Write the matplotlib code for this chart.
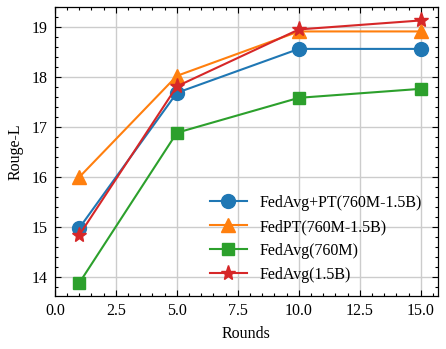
import matplotlib
matplotlib.use("Agg")
import matplotlib.pyplot as plt
from matplotlib.ticker import AutoMinorLocator, MultipleLocator, FormatStrFormatter

rounds = [1, 5, 10, 15]
fedavg_pt = [14.98, 17.69, 18.57, 18.57]
fedpt = [16.00, 18.03, 18.92, 18.92]
fedavg_760m = [13.88, 16.89, 17.59, 17.77]
fedavg_15b = [14.84, 17.82, 18.96, 19.14]
labels = ["FedAvg+PT(760M-1.5B)", "FedPT(760M-1.5B)", "FedAvg(760M)", "FedAvg(1.5B)"]

plt.rcParams['font.family'] = ['Liberation Serif', 'DejaVu Serif']
fs = 11.5
plt.rcParams['font.size'] = fs

fig = plt.figure(figsize=(4.46, 3.49), dpi=100)
ax = fig.add_axes([0.123, 0.152, 0.859, 0.828])

series = [fedavg_pt, fedpt, fedavg_760m, fedavg_15b]
markers = ['o', '^', 's', '*']
colors = ['#1f77b4', '#ff7f0e', '#2ca02c', '#d62728']
msizes = [10, 10, 9, 11]
for s, m, c, lab, ms in zip(series, markers, colors, labels, msizes):
    ax.plot(rounds, s, marker=m, color=c, label=lab, linewidth=1.5, markersize=ms)

ax.set_xlim(0, 15.7)
ax.set_ylim(13.62, 19.41)
ax.set_xlabel("Rounds", labelpad=5)
ax.set_ylabel("Rouge-L", labelpad=6)
ax.grid(True, color='#cccccc', linewidth=1.0)
ax.set_axisbelow(True)
ax.xaxis.set_major_locator(MultipleLocator(2.5))
ax.xaxis.set_major_formatter(FormatStrFormatter('%.1f'))
ax.xaxis.set_minor_locator(AutoMinorLocator(5))
ax.yaxis.set_minor_locator(AutoMinorLocator(5))
ax.tick_params(which='both', direction='in', top=True, right=True, labelsize=fs)
ax.tick_params(which='major', length=4.5, width=0.8, pad=5)
ax.tick_params(which='minor', length=2.3, width=0.8)
for sp in ax.spines.values():
    sp.set_linewidth(0.9)
ax.legend(loc='lower right', frameon=False, fontsize=fs, bbox_to_anchor=(0.995, -0.005),
          handlelength=2.3, labelspacing=0.5)

fig.savefig("out.png", dpi=100)
